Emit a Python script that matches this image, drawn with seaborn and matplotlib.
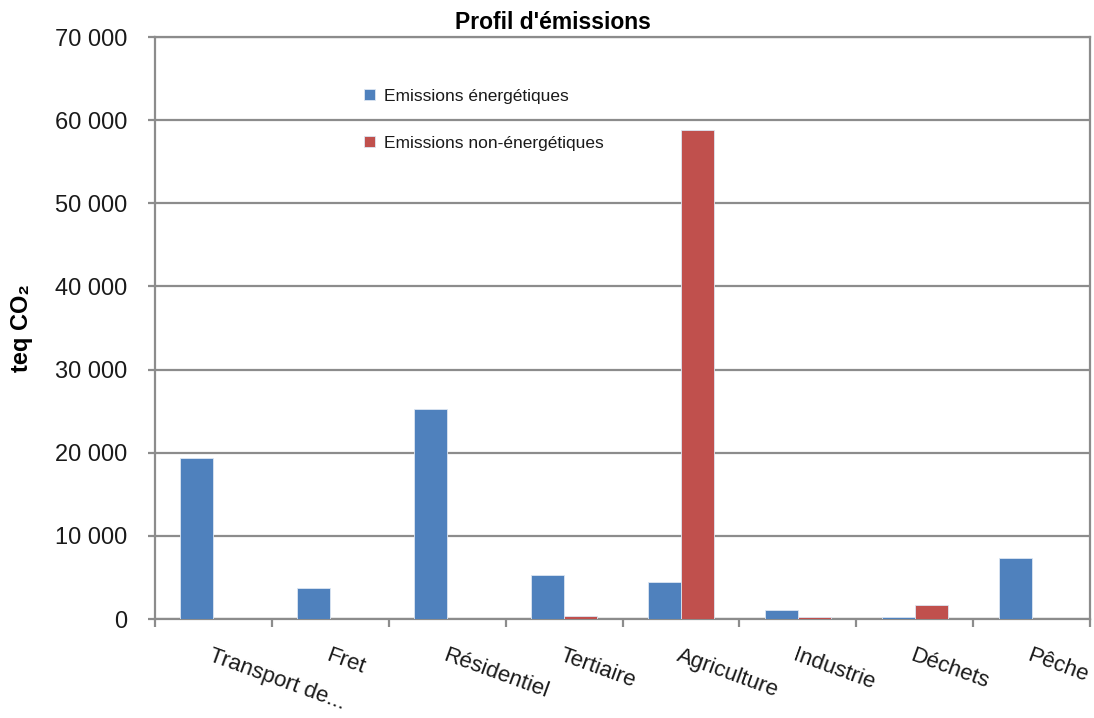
import matplotlib
matplotlib.use("Agg")
import matplotlib.pyplot as plt
from matplotlib.ticker import FuncFormatter, FixedLocator
import seaborn as sns
import pandas as pd
import numpy as np

categories = ["Transport de...", "Fret", "Résidentiel", "Tertiaire",
              "Agriculture", "Industrie", "Déchets", "Pêche"]
series_names = ["Emissions énergétiques", "Emissions non-énergétiques"]
emissions_energetiques = [19400, 3700, 25300, 5300, 4450, 1100, 250, 7350]
emissions_non_energetiques = [0, 0, 0, 400, 58800, 300, 1700, 0]
y_ticks = [0, 10000, 20000, 30000, 40000, 50000, 60000, 70000]

df = pd.DataFrame({
    "Secteur": categories * 2,
    "Série": [series_names[0]] * len(categories) + [series_names[1]] * len(categories),
    "Valeur": emissions_energetiques + emissions_non_energetiques,
})

sns.set_theme(style="white")
plt.rcParams["font.family"] = ["Liberation Sans", "DejaVu Sans"]

fig = plt.figure(figsize=(10.94, 7.18), dpi=100)
ax = fig.add_axes([155 / 1094, 1 - 619 / 718, 935 / 1094, 582 / 718])

grid_color = "#8c8c8c"
sns.barplot(data=df, x="Secteur", y="Valeur", hue="Série", order=categories,
            hue_order=series_names, palette=["#4F81BD", "#C0504D"],
            saturation=1, width=0.565, edgecolor="#dce6f2", linewidth=0.6,
            ax=ax, zorder=3)

ax.set_ylim(0, 70000)
ax.set_xlim(-0.5, len(categories) - 0.5)
ax.yaxis.set_major_locator(FixedLocator(y_ticks))
ax.yaxis.set_major_formatter(FuncFormatter(lambda v, p: f"{v:,.0f}".replace(",", " ")))
ax.grid(axis="y", color=grid_color, linewidth=1.6, zorder=0)
ax.set_axisbelow(True)

for side in ["left", "bottom", "right", "top"]:
    ax.spines[side].set_visible(True)
    ax.spines[side].set_color(grid_color)
    ax.spines[side].set_linewidth(1.6)

ax.tick_params(axis="y", which="major", length=5, width=1.6, color=grid_color,
               pad=15, labelsize=17, labelcolor="#1a1a1a", left=True)

# category labels at centres, tick marks at boundaries
ax.set_xticks(np.arange(len(categories)))
ax.set_xticklabels(categories, rotation=-20, ha="left", va="top",
                   rotation_mode="anchor", fontsize=16, color="#1a1a1a")
ax.tick_params(axis="x", which="major", length=0, pad=19)
ax.set_xticks(np.arange(len(categories) + 1) - 0.5, minor=True)
ax.tick_params(axis="x", which="minor", length=6, width=1.6, color=grid_color,
               bottom=True)

ax.set_xlabel("")
ax.set_ylabel("teq CO₂", fontsize=17, fontweight="bold", color="#000000")
ax.yaxis.set_label_coords(-0.13, 0.5)

fig.suptitle("Profil d'émissions", x=553 / 1094, y=0.985, va="top",
             fontsize=16.5, fontweight="bold", color="#000000")

leg = ax.legend(loc="upper left", bbox_to_anchor=(0.224, 0.911), frameon=False,
                fontsize=12.5, handlelength=0.6, handleheight=0.6,
                handletextpad=0.5, labelspacing=1.85, borderpad=0,
                borderaxespad=0, title=None)
for t in leg.get_texts():
    t.set_color("#1a1a1a")

fig.savefig("out.png", dpi=100)
